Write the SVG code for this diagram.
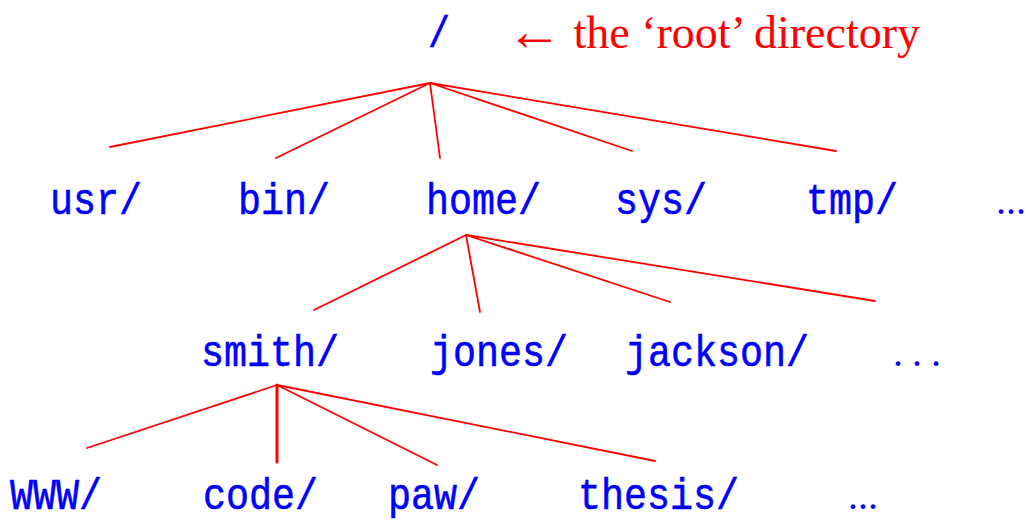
<svg xmlns="http://www.w3.org/2000/svg" width="1029" height="521" viewBox="0 0 1029 521">
<style>
.n{font-family:"Liberation Mono","DejaVu Sans Mono",monospace;font-size:45px;fill:#0000ff;stroke:#0000ff;stroke-width:0.6;}
.d{font-family:"Liberation Serif","DejaVu Serif",serif;font-size:40px;fill:#0000ff;}
.r{font-family:"Liberation Serif","DejaVu Serif",serif;font-size:46px;fill:#ff0000;}
.c line{stroke:#ff0000;stroke-width:1.8;stroke-linecap:round;}
</style>
<rect width="1029" height="521" fill="#ffffff"/>
<g id="connectors" class="c">
<line x1="430" y1="83" x2="110" y2="147"/>
<line x1="430" y1="83" x2="276" y2="158"/>
<line x1="430" y1="83" x2="440" y2="158"/>
<line x1="430" y1="83" x2="632" y2="151"/>
<line x1="430" y1="83" x2="836" y2="151"/>
<line x1="466" y1="235" x2="314" y2="310"/>
<line x1="466" y1="235" x2="480" y2="312"/>
<line x1="466" y1="235" x2="670" y2="302"/>
<line x1="466" y1="235" x2="875" y2="301"/>
<line x1="277" y1="385" x2="87" y2="448"/>
<line x1="277" y1="385" x2="277" y2="462" style="stroke-width:3"/>
<line x1="277" y1="385" x2="437" y2="465"/>
<line x1="277" y1="385" x2="655" y2="461"/>
</g>
<g id="root"><text class="n" x="428" y="47" textLength="22" lengthAdjust="spacingAndGlyphs">/</text></g>
<g id="root-label"><text class="r" x="506" y="48"><tspan font-size="56" dy="2">←</tspan><tspan dy="-2"> the ‘root’ directory</tspan></text></g>
<g id="usr"><text class="n" x="50" y="214" textLength="92" lengthAdjust="spacingAndGlyphs">usr/</text></g>
<g id="bin"><text class="n" x="238" y="214" textLength="92" lengthAdjust="spacingAndGlyphs">bin/</text></g>
<g id="home"><text class="n" x="426" y="214" textLength="115" lengthAdjust="spacingAndGlyphs">home/</text></g>
<g id="sys"><text class="n" x="615" y="214" textLength="92" lengthAdjust="spacingAndGlyphs">sys/</text></g>
<g id="tmp"><text class="n" x="806" y="214" textLength="92" lengthAdjust="spacingAndGlyphs">tmp/</text></g>
<g id="more1"><text class="d" x="996" y="214">...</text></g>
<g id="smith"><text class="n" x="201" y="366" textLength="138" lengthAdjust="spacingAndGlyphs">smith/</text></g>
<g id="jones"><text class="n" x="430" y="366" textLength="138" lengthAdjust="spacingAndGlyphs">jones/</text></g>
<g id="jackson"><text class="n" x="625" y="366" textLength="184" lengthAdjust="spacingAndGlyphs">jackson/</text></g>
<g id="more2"><text class="d" x="893" y="366" letter-spacing="9">...</text></g>
<g id="WWW"><text class="n" x="10" y="509" textLength="92" lengthAdjust="spacingAndGlyphs">WWW/</text></g>
<g id="code"><text class="n" x="203" y="509" textLength="115" lengthAdjust="spacingAndGlyphs">code/</text></g>
<g id="paw"><text class="n" x="388" y="509" textLength="92" lengthAdjust="spacingAndGlyphs">paw/</text></g>
<g id="thesis"><text class="n" x="578" y="509" textLength="161" lengthAdjust="spacingAndGlyphs">thesis/</text></g>
<g id="more3"><text class="d" x="848" y="509">...</text></g>
</svg>
